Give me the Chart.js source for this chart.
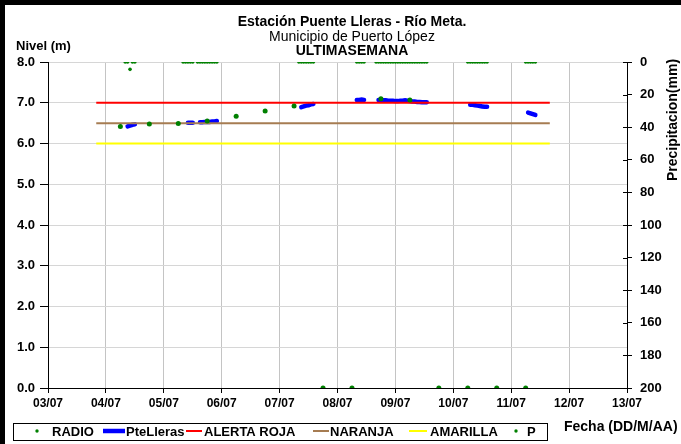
<!DOCTYPE html>
<html lang="es">
<head>
  <meta charset="UTF-8">
  <title>Estación Puente Lleras - Río Meta</title>
  <script src="https://cdn.jsdelivr.net/npm/chart.js"></script>
  <style>
    body { margin: 0; background: #fff; }
    #wrap { width: 681px; height: 444px; }
  </style>
</head>
<body>
  <div id="wrap"><canvas id="nivelChart" width="681" height="444"></canvas></div>
  <script>
    var FONT = "'Liberation Sans', Arial, sans-serif";

    // textos
    var titleLines = ['Estación Puente Lleras - Río Meta.', 'Municipio de Puerto López', 'ULTIMASEMANA'];
    var yTitle = 'Nivel (m)';
    var y2Title = 'Precipitacion(mm)';
    var xTitle = 'Fecha (DD/M/AA)';

    // lecturas de RADIO (dos al día)
    var radioTimes = ['04/07 06:00', '04/07 18:00', '05/07 06:00', '05/07 18:00', '06/07 06:00', '06/07 18:00',
      '07/07 06:00', '07/07 18:00', '08/07 06:00', '08/07 18:00', '09/07 06:00', '09/07 18:00',
      '10/07 06:00', '10/07 18:00', '11/07 06:00'];
    var radioLevel = [6.42, 6.48, 6.49, 6.55, 6.67, 6.80, 6.92, 0, 0, 7.10, 7.07, 0, 0, 0, 0];

    // estación automática PteLleras (horaria): nivel y precipitación
    var stationTimes = [
      '04/07 08:00', '04/07 09:00', '04/07 10:00', '04/07 11:00', '04/07 12:00',
      '05/07 08:00', '05/07 09:00', '05/07 10:00', '05/07 11:00', '05/07 12:00',
      '05/07 14:00', '05/07 15:00', '05/07 16:00', '05/07 17:00', '05/07 18:00', '05/07 19:00', '05/07 20:00', '05/07 21:00', '05/07 22:00',
      '07/07 08:00', '07/07 09:00', '07/07 10:00', '07/07 11:00', '07/07 12:00', '07/07 13:00', '07/07 14:00',
      '08/07 08:00', '08/07 09:00', '08/07 10:00', '08/07 11:00',
      '08/07 16:00', '08/07 17:00', '08/07 18:00', '08/07 19:00', '08/07 20:00', '08/07 21:00', '08/07 22:00', '08/07 23:00',
      '09/07 00:00', '09/07 01:00', '09/07 02:00', '09/07 03:00', '09/07 04:00', '09/07 05:00', '09/07 06:00',
      '09/07 07:00', '09/07 08:00', '09/07 09:00', '09/07 10:00', '09/07 11:00', '09/07 12:00', '09/07 13:00',
      '10/07 06:00', '10/07 07:00', '10/07 08:00', '10/07 09:00', '10/07 10:00', '10/07 11:00', '10/07 12:00', '10/07 13:00', '10/07 14:00',
      '11/07 06:00', '11/07 07:00', '11/07 08:00', '11/07 09:00', '11/07 10:00'
    ];
    var stationLevel = [
      null, 6.42, 6.44, 6.46, 6.47,
      null, null, 6.51, 6.51, 6.51,
      null, 6.52, 6.52, 6.53, 6.53, 6.53, 6.54, 6.54, 6.55,
      null, 6.89, 6.91, 6.93, 6.94, 6.96, 6.97,
      7.07, 7.07, 7.08, 7.07,
      null, 7.07, 7.07, 7.06, 7.06, 7.05, 7.05, 7.05,
      7.04, 7.04, 7.05, 7.05, 7.06, 7.05, 7.04,
      7.03, 7.03, 7.02, 7.02, 7.01, 7.01, 7.01,
      null, 6.95, 6.95, 6.94, 6.93, 6.92, 6.91, 6.90, 6.90,
      null, 6.76, 6.74, 6.72, 6.70
    ];
    var stationP = [
      0, 0, 4.5, 0, 0,
      0, 0, 0, 0, 0,
      0, 0, 0, 0, 0, 0, 0, 0, 0,
      0, 0, 0, 0, 0, 0, 0,
      0, 0, 0, 0,
      0, 0, 0, 0, 0, 0, 0, 0,
      0, 0, 0, 0, 0, 0, 0,
      0, 0, 0, 0, 0, 0, 0,
      0, 0, 0, 0, 0, 0, 0, 0, 0,
      0, 0, 0, 0, 0
    ];

    // umbrales de alerta
    var thresholdTimes = ['03/07 20:00', '11/07 16:00'];
    var alertaRoja = 7.0;
    var naranja = 6.5;
    var amarilla = 6.0;

    // ejes
    var xDays = [3, 13];
    var levelRange = [0, 8];
    var rainRange = [0, 200];

    // 'dd/mm hh:mm' -> día con fracción
    function toDay(s) {
      var parts = s.split(' ');
      var dd = parseInt(parts[0].split('/')[0], 10);
      var hm = parts[1].split(':');
      return dd + (parseInt(hm[0], 10) + parseInt(hm[1], 10) / 60) / 24;
    }
    function pairs(times, values) {
      return times.map(function (t, i) { return { x: toDay(t), y: values[i] }; });
    }
    function flat(times, value) {
      return times.map(function (t) { return { x: toDay(t), y: value }; });
    }

    var GREEN = '#008000';

    var decor = {
      id: 'decor',
      afterDraw: function (chart) {
        var ctx = chart.ctx;
        ctx.save();
        ctx.fillStyle = '#000';
        ctx.fillRect(0, 0, 5, 444);
        ctx.fillRect(0, 0, 681, 5);

        ctx.textBaseline = 'middle';
        ctx.textAlign = 'center';
        ctx.font = 'bold 14px ' + FONT;
        ctx.fillText(titleLines[0], 352, 22);
        ctx.font = '14px ' + FONT;
        ctx.fillText(titleLines[1], 352, 37);
        ctx.font = 'bold 14px ' + FONT;
        ctx.fillText(titleLines[2], 352, 51);

        ctx.textAlign = 'left';
        ctx.font = 'bold 13px ' + FONT;
        ctx.fillText(yTitle, 16, 46);
        ctx.font = 'bold 14px ' + FONT;
        ctx.fillText(xTitle, 564, 427);

        ctx.save();
        ctx.translate(673, 120);
        ctx.rotate(-Math.PI / 2);
        ctx.textAlign = 'center';
        ctx.fillText(y2Title, 0, 0);
        ctx.restore();

        // ticks hacia dentro del eje derecho
        var y2 = chart.scales.y2;
        ctx.strokeStyle = '#000';
        ctx.lineWidth = 1;
        y2.ticks.forEach(function (t) {
          var py = Math.round(y2.getPixelForValue(t.value)) + 0.5;
          ctx.beginPath();
          ctx.moveTo(chart.chartArea.right - 4, py);
          ctx.lineTo(chart.chartArea.right, py);
          ctx.stroke();
        });

        // leyenda
        ctx.strokeStyle = '#000';
        ctx.strokeRect(13.5, 423.5, 534, 17);
        var ly = 432;
        var items = [
          { ds: 0, kind: 'dot', x0: 37, tx: 52 },
          { ds: 1, kind: 'line', x0: 103, x1: 125, tx: 126 },
          { ds: 2, kind: 'line', x0: 186, x1: 202, tx: 204 },
          { ds: 3, kind: 'line', x0: 313, x1: 329, tx: 330 },
          { ds: 4, kind: 'line', x0: 409, x1: 427, tx: 430 },
          { ds: 5, kind: 'dot', x0: 516, tx: 527 }
        ];
        ctx.font = 'bold 13px ' + FONT;
        ctx.textAlign = 'left';
        items.forEach(function (it) {
          var ds = chart.data.datasets[it.ds];
          if (it.kind === 'dot') {
            ctx.fillStyle = ds.pointBackgroundColor;
            ctx.beginPath();
            ctx.arc(it.x0, ly - 1, 1.7, 0, Math.PI * 2);
            ctx.fill();
          } else {
            ctx.strokeStyle = ds.borderColor;
            ctx.lineWidth = ds.borderWidth;
            ctx.beginPath();
            ctx.moveTo(it.x0, ly - 1);
            ctx.lineTo(it.x1, ly - 1);
            ctx.stroke();
          }
          ctx.fillStyle = '#000';
          ctx.fillText(ds.label, it.tx, ly);
        });
        ctx.restore();
      }
    };

    var ctx = document.getElementById('nivelChart').getContext('2d');
    var chart = new Chart(ctx, {
      type: 'line',
      data: {
        datasets: [
          {
            label: 'RADIO',
            data: pairs(radioTimes, radioLevel),
            showLine: false,
            pointRadius: 2.5,
            pointBorderWidth: 0,
            pointBackgroundColor: GREEN,
            borderColor: GREEN,
            yAxisID: 'y',
            order: 0
          },
          {
            label: 'PteLleras',
            data: pairs(stationTimes, stationLevel),
            borderColor: '#0000ff',
            borderWidth: 4.5,
            borderCapStyle: 'round',
            pointRadius: 0,
            spanGaps: 0.07,
            yAxisID: 'y',
            order: 2
          },
          {
            label: 'ALERTA ROJA',
            data: flat(thresholdTimes, alertaRoja),
            borderColor: '#ff0000',
            borderWidth: 2,
            pointRadius: 0,
            yAxisID: 'y',
            order: 1
          },
          {
            label: 'NARANJA',
            data: flat(thresholdTimes, naranja),
            borderColor: '#a67c52',
            borderWidth: 2,
            pointRadius: 0,
            yAxisID: 'y',
            order: 1
          },
          {
            label: 'AMARILLA',
            data: flat(thresholdTimes, amarilla),
            borderColor: '#ffff00',
            borderWidth: 2,
            pointRadius: 0,
            yAxisID: 'y',
            order: 1
          },
          {
            label: 'P',
            data: pairs(stationTimes, stationP),
            showLine: false,
            pointRadius: 1.8,
            pointBorderWidth: 0,
            pointBackgroundColor: GREEN,
            borderColor: GREEN,
            yAxisID: 'y2',
            order: 0
          }
        ]
      },
      options: {
        responsive: false,
        animation: false,
        layout: { padding: { top: 62, left: 0, right: 0, bottom: 0 } },
        plugins: {
          legend: { display: false },
          title: { display: false },
          tooltip: { enabled: false }
        },
        scales: {
          x: {
            type: 'linear',
            min: xDays[0],
            max: xDays[1],
            ticks: {
              stepSize: 1,
              color: '#000',
              font: { family: FONT, size: 12, weight: 'bold' },
              padding: 3,
              maxRotation: 0,
              callback: function (v) { return String(v).padStart(2, '0') + '/07'; }
            },
            grid: { color: '#c4c4c4', tickColor: '#000', tickLength: 5 },
            border: { color: '#000', width: 1 },
            afterFit: function (s) { s.height = 56; }
          },
          y: {
            position: 'left',
            min: levelRange[0],
            max: levelRange[1],
            ticks: {
              stepSize: 1,
              color: '#000',
              font: { family: FONT, size: 13, weight: 'bold' },
              padding: 5,
              callback: function (v) { return v.toFixed(1); }
            },
            grid: { color: '#d6d6d6', tickColor: '#000', tickLength: 8 },
            border: { color: '#000', width: 1 },
            afterFit: function (s) { s.width = 48; }
          },
          y2: {
            position: 'right',
            reverse: true,
            min: rainRange[0],
            max: rainRange[1],
            ticks: {
              stepSize: 20,
              color: '#000',
              font: { family: FONT, size: 13, weight: 'bold' },
              padding: 8
            },
            grid: { drawOnChartArea: false, tickColor: '#000', tickLength: 5 },
            border: { color: '#000', width: 1 },
            afterFit: function (s) { s.width = 54; }
          }
        }
      },
      plugins: [decor]
    });
  </script>
</body>
</html>
